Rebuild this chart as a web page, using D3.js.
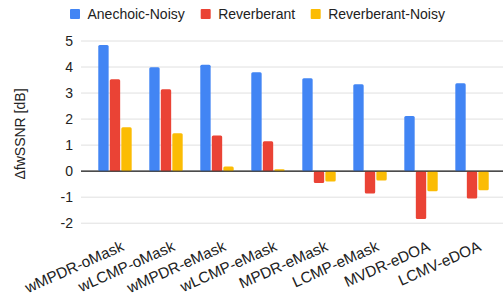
<!DOCTYPE html>
<html><head><meta charset="utf-8">
<script src="https://cdn.jsdelivr.net/npm/d3@7"></script>
<style>body{margin:0;background:#fff}svg{display:block;font-family:"Liberation Sans",Arial,sans-serif}</style>
</head><body><svg id="c" width="503" height="298"></svg>
<script>
const categories = ["wMPDR-oMask","wLCMP-oMask","wMPDR-eMask","wLCMP-eMask","MPDR-eMask","LCMP-eMask","MVDR-eDOA","LCMV-eDOA"];
const seriesNames = ["Anechoic-Noisy","Reverberant","Reverberant-Noisy"];
const anechoicNoisy = [4.85, 3.99, 4.09, 3.80, 3.57, 3.34, 2.12, 3.38];
const reverberant = [3.53, 3.15, 1.37, 1.15, -0.46, -0.86, -1.84, -1.05];
const reverberantNoisy = [1.69, 1.46, 0.18, 0.07, -0.40, -0.36, -0.77, -0.73];
const yTicks = [-2, -1, 0, 1, 2, 3, 4, 5];
const colors = ["#4285F4", "#EA4335", "#FBBC04"];
const yTitle = "ΔfwSSNR [dB]";

const series = [anechoicNoisy, reverberant, reverberantNoisy];
const svg = d3.select("#c");
const y = d3.scaleLinear().domain([-2, 5]).range([223.2, 41]);
const x = d3.scaleBand().domain(categories).range([89.5, 497.5]).paddingInner(0.345).paddingOuter(0.172);
const xs = d3.scaleBand().domain(d3.range(3)).range([0, x.bandwidth()]).paddingInner(0.1);

svg.append("g").selectAll("line").data(yTicks).join("line")
  .attr("x1", 81).attr("x2", 503).attr("y1", d => y(d)).attr("y2", d => y(d))
  .attr("stroke", d => d === 0 ? "#333" : "#e0e0e0").attr("stroke-width", 1);

svg.append("g").selectAll("text").data(yTicks).join("text")
  .attr("x", 73).attr("y", d => y(d)).attr("dy", "0.36em").attr("text-anchor", "end")
  .attr("font-size", 14).attr("fill", "#222").text(d => d);

categories.forEach((c, i) => {
  series.forEach((s, j) => {
    const v = s[i];
    const y0 = y(Math.max(0, v)), y1 = y(Math.min(0, v));
    svg.append("rect").attr("x", x(c) + xs(j)).attr("width", xs.bandwidth())
      .attr("y", y0).attr("height", Math.max(0.5, y1 - y0))
      .attr("rx", 1.5).attr("fill", colors[j]);
  });
});
svg.append("line").attr("x1", 81).attr("x2", 503).attr("y1", y(0)).attr("y2", y(0)).attr("stroke", "#333");

svg.append("g").selectAll("text").data(categories).join("text")
  .attr("transform", d => `translate(${x(d) + x.bandwidth() / 2 + 10},${250}) rotate(-24)`)
  .attr("text-anchor", "end").attr("font-size", 15.3).attr("fill", "#222").text(d => d);

svg.append("text").attr("transform", "translate(25,134) rotate(-90)").attr("text-anchor", "middle")
  .attr("font-size", 14).attr("fill", "#222").text(yTitle);

const legX = [70, 200.7, 310.7];
seriesNames.forEach((n, j) => {
  svg.append("rect").attr("x", legX[j]).attr("y", 9).attr("width", 10).attr("height", 10).attr("rx", 1).attr("fill", colors[j]);
  svg.append("text").attr("x", legX[j] + 17.5).attr("y", 14).attr("dy", "0.36em").attr("font-size", 14).attr("fill", "#222").text(n);
});
</script></body></html>
